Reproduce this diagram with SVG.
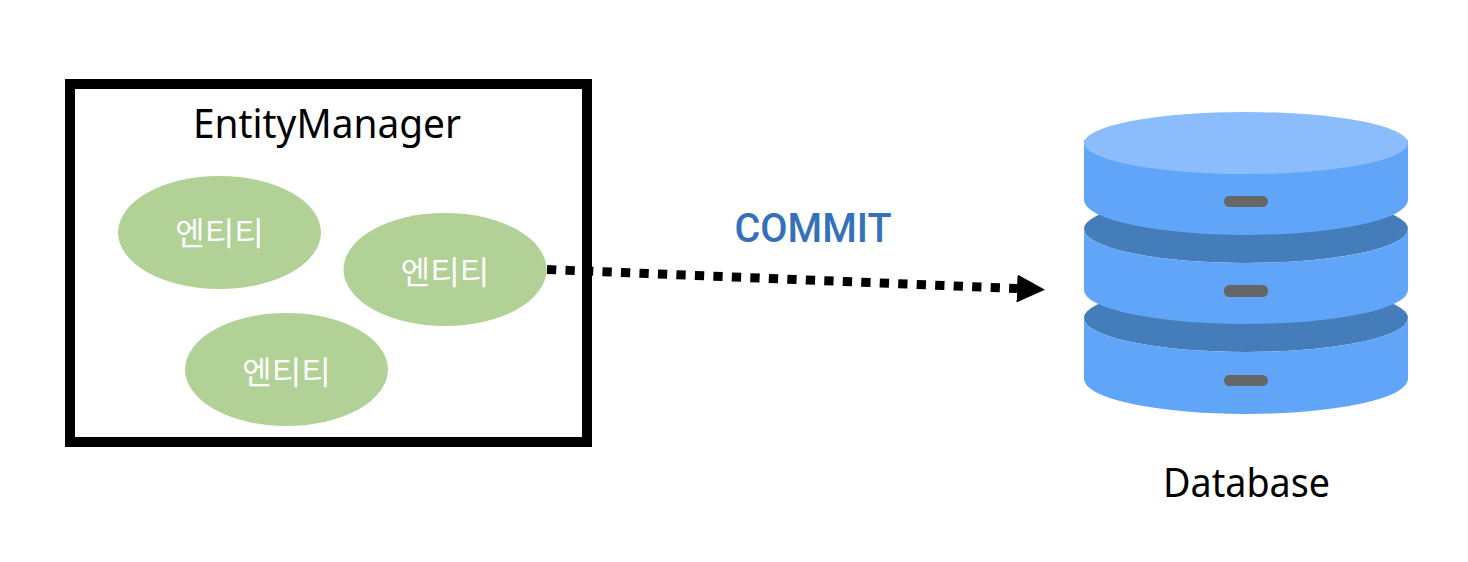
<svg xmlns="http://www.w3.org/2000/svg" width="1468" height="562" viewBox="0 0 1468 562">
<style>
.lbl{font-family:"Noto Sans","Noto Sans CJK KR",sans-serif;font-size:40px;fill:#000}
.ent{fill:#b2d197}
.kr{font-family:"Noto Sans CJK KR","Noto Sans",sans-serif;font-size:32px;fill:#fff;text-anchor:middle}
.body{fill:#60a5f8}
.dark{fill:#457cba}
.pill{fill:#666}
</style>
<defs>
<marker id="arrow" markerUnits="userSpaceOnUse" markerWidth="30" markerHeight="28" refX="0" refY="14" orient="auto"><path d="M0 0L28 14L0 28Z" fill="#000"/></marker>
</defs>
<rect width="1468" height="562" fill="#fff"/>
<g id="connectors">
<path d="M547 269.500L1017 288.500" fill="none" stroke="#000" stroke-width="9" stroke-dasharray="9.300 9.200" marker-end="url(#arrow)"/>
</g>
<g id="entity-manager">
<rect x="70" y="84" width="517" height="358" fill="none" stroke="#000" stroke-width="10"/>
<text class="lbl" x="193" y="138" textLength="268" lengthAdjust="spacingAndGlyphs">EntityManager</text>
</g>
<g id="entity-1"><ellipse class="ent" cx="219.500" cy="232.500" rx="101.500" ry="56.500"/><text class="kr" x="219.500" y="245">엔티티</text></g>
<g id="entity-2"><ellipse class="ent" cx="445" cy="269.500" rx="101.500" ry="56.500"/><text class="kr" x="445" y="284">엔티티</text></g>
<g id="entity-3"><ellipse class="ent" cx="286.500" cy="369.500" rx="101.500" ry="56.500"/><text class="kr" x="286.500" y="384">엔티티</text></g>
<text x="813" y="242" text-anchor="middle" font-family="Roboto,sans-serif" font-size="41" font-weight="500" fill="#3571bb" textLength="157" lengthAdjust="spacingAndGlyphs">COMMIT</text>
<g id="database">
<path class="dark" d="M1084 318A162 34 0 0 1 1408 318A162 34 0 0 1 1084 318Z"/>
<path class="body" d="M1084 318V379A162 35 0 0 0 1408 379V318A162 34 0 0 1 1084 318Z"/>
<rect class="pill" x="1224" y="375" width="44" height="11" rx="5.500"/>
<path class="dark" d="M1084 229A162 34 0 0 1 1408 229A162 34 0 0 1 1084 229Z"/>
<path class="body" d="M1084 229V290A162 34 0 0 0 1408 290V229A162 34 0 0 1 1084 229Z"/>
<rect class="pill" x="1224" y="285" width="44" height="12" rx="5.500"/>
<path class="body" d="M1084 140V200A162 35 0 0 0 1408 200V140Z"/>
<ellipse cx="1246" cy="143" rx="162" ry="31" fill="#8bbcfb"/>
<rect class="pill" x="1224" y="196" width="44" height="11" rx="5.500"/>
<text class="lbl" x="1163" y="497" textLength="167" lengthAdjust="spacingAndGlyphs">Database</text>
</g>
</svg>
